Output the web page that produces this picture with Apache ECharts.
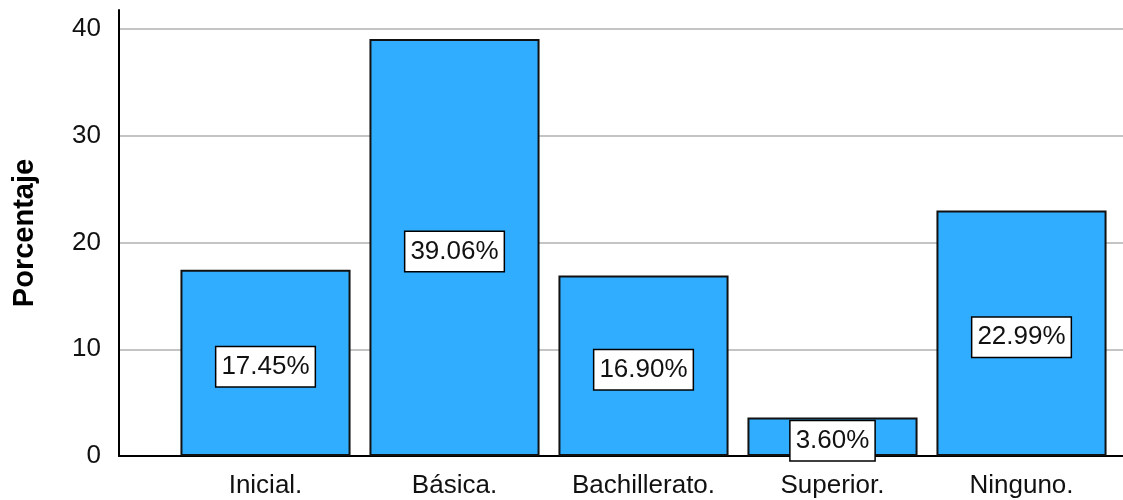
<!DOCTYPE html>
<html>
<head>
<meta charset="utf-8">
<script src="https://cdn.jsdelivr.net/npm/echarts@6/dist/echarts.min.js"></script>
<style>html,body{margin:0;padding:0;background:#fff}#c{width:1123px;height:500px}</style>
</head>
<body>
<div id="c"></div>
<script>
const categories = ['Inicial.', 'Básica.', 'Bachillerato.', 'Superior.', 'Ninguno.'];
const percentages = [17.45, 39.06, 16.90, 3.60, 22.99];
const yTicks = { min: 0, max: 40, interval: 10 };
const yTitle = 'Porcentaje';

const FONT = 'Liberation Sans, Arial, sans-serif';
const chart = echarts.init(document.getElementById('c'));
chart.setOption({
  animation: false,
  backgroundColor: '#fff',
  grid: [
    { left: 119, right: 0, top: 29, bottom: 44 },
    { left: 171, right: 7, top: 29, bottom: 44 },
    { left: 119, right: 0, top: 10, bottom: 44 }
  ],
  xAxis: [
    { gridIndex: 0, type: 'value', min: 0, max: 1,
      axisLine: { show: true, onZero: false, lineStyle: { color: '#000', width: 2 } },
      axisTick: { show: false }, axisLabel: { show: false }, splitLine: { show: false } },
    { gridIndex: 1, type: 'category', data: categories,
      axisLine: { show: false }, axisTick: { show: false },
      axisLabel: { margin: 17, fontSize: 26, fontFamily: FONT, color: '#111', interval: 0 } },
    { gridIndex: 2, type: 'value', show: false }
  ],
  yAxis: [
    { gridIndex: 0, type: 'value', min: yTicks.min, max: yTicks.max, interval: yTicks.interval,
      axisLine: { show: false }, axisTick: { show: false },
      axisLabel: { margin: 18, fontSize: 26, fontFamily: FONT, color: '#111', padding: [4, 0, 0, 0] },
      splitLine: { show: true, lineStyle: { color: '#c4c4c4', width: 2 } } },
    { gridIndex: 1, type: 'value', min: yTicks.min, max: yTicks.max, interval: yTicks.interval, show: false },
    { gridIndex: 2, type: 'value', min: 0, max: 1,
      axisLine: { show: true, lineStyle: { color: '#000', width: 2 } },
      axisTick: { show: false }, axisLabel: { show: false }, splitLine: { show: false },
      name: yTitle, nameLocation: 'middle', nameGap: 80, nameRotate: 90,
      nameTextStyle: { fontSize: 29, fontWeight: 'bold', fontFamily: FONT, color: '#000' } }
  ],
  series: [{
    type: 'bar',
    xAxisIndex: 1, yAxisIndex: 1,
    data: percentages,
    barCategoryGap: '10%',
    itemStyle: { color: '#31adff', borderColor: '#111', borderWidth: 2 },
    label: {
      show: true, position: 'inside', offset: [0, 4],
      formatter: p => p.value.toFixed(2) + '%',
      fontSize: 26, fontFamily: FONT, color: '#111',
      backgroundColor: '#fff', borderColor: '#000', borderWidth: 1.5,
      padding: [7, 5, 6, 5]
    }
  }]
});
</script>
</body>
</html>
